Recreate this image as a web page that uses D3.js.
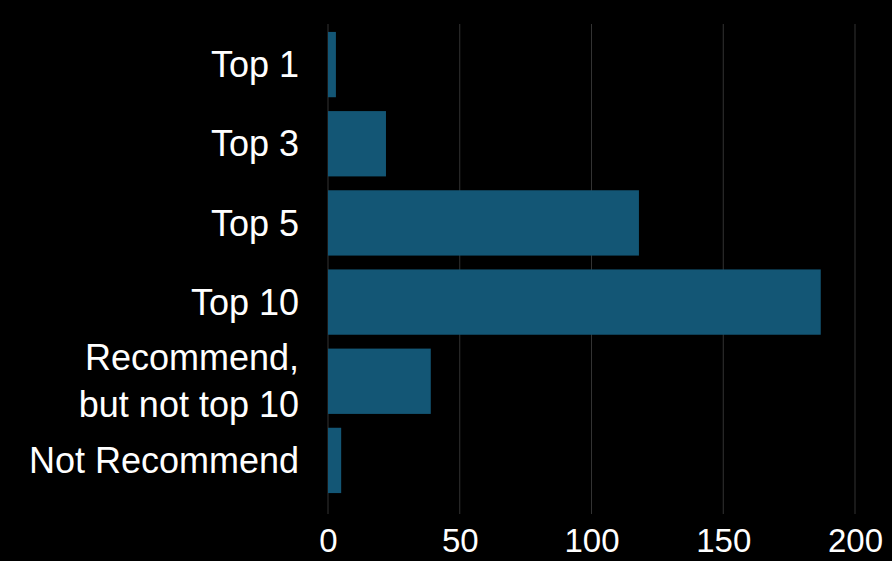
<!DOCTYPE html>
<html>
<head>
<meta charset="utf-8">
<script src="https://cdn.jsdelivr.net/npm/d3@7"></script>
<style>
  body { margin:0; background:#000; }
  svg { display:block; }
</style>
</head>
<body>
<div id="chart"></div>
<script>
// data
var categories = ["Top 1", "Top 3", "Top 5", "Top 10", "Recommend,\nbut not top 10", "Not Recommend"];
var counts = [3, 22, 118, 187, 39, 5];
var xTicks = [0, 50, 100, 150, 200];

var width = 892, height = 561;
var margin = { left:328, right:37, top:25, bottom:61 };

var svg = d3.select("#chart")
    .append("svg")
    .attr("width", width)
    .attr("height", height)
    .style("background", "#000");

var x = d3.scaleLinear()
    .domain([0, 200])
    .range([margin.left, width - margin.right]);

var y = d3.scaleBand()
    .domain(categories)
    .range([margin.top, height - margin.bottom])
    .paddingInner(0.175)
    .paddingOuter(0.0875);

// grid lines
svg.append("g")
    .attr("class", "grid")
    .selectAll("line")
    .data(xTicks)
    .enter()
    .append("line")
    .attr("x1", function(d) { return x(d); })
    .attr("x2", function(d) { return x(d); })
    .attr("y1", 24)
    .attr("y2", 514)
    .attr("stroke", "#333")
    .attr("stroke-width", 1);

// bars
svg.append("g")
    .selectAll("rect")
    .data(categories)
    .enter()
    .append("rect")
    .attr("x", x(0))
    .attr("y", function(d) { return y(d); })
    .attr("width", function(d, i) { return x(counts[i]) - x(0); })
    .attr("height", y.bandwidth())
    .attr("fill", "#135675");

// x axis labels
var xAxis = d3.axisBottom(x)
    .tickValues(xTicks)
    .tickSize(0)
    .tickPadding(0);

var xAxisGroup = svg.append("g")
    .attr("transform", "translate(0," + 552 + ")")
    .call(xAxis);
xAxisGroup.select(".domain").remove();
xAxisGroup.selectAll("text")
    .attr("dy", 0)
    .attr("fill", "#fff")
    .attr("font-family", "Liberation Sans, Arial, sans-serif")
    .attr("font-size", 33);

// category labels
var labels = svg.append("g")
    .selectAll("text")
    .data(categories)
    .enter()
    .append("text")
    .attr("x", 299)
    .attr("y", function(d) { return y(d) + y.bandwidth() / 2; })
    .attr("text-anchor", "end")
    .attr("fill", "#fff")
    .attr("font-family", "Liberation Sans, Arial, sans-serif")
    .attr("font-size", 36);

labels.each(function(d) {
    var lines = d.split("\n");
    var t = d3.select(this);
    lines.forEach(function(line, i) {
        t.append("tspan")
            .attr("x", 299)
            .attr("dy", i === 0 ? ((0.35 - (lines.length - 1) * 0.65) + "em") : "1.3em")
            .text(line);
    });
});
</script>
</body>
</html>
